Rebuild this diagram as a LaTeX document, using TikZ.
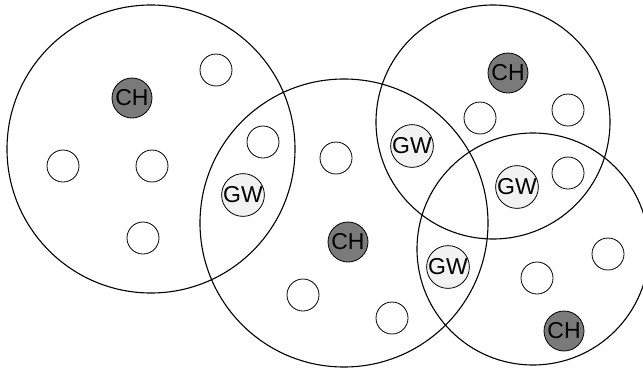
\documentclass[tikz,border=0pt]{standalone}
\usepackage{fontspec}
\setmainfont{Liberation Sans}
\definecolor{chgray}{HTML}{7A7A7A}
\definecolor{gwgray}{HTML}{F2F2F2}
\begin{document}
\begin{tikzpicture}[x=1pt,y=-1pt,
  cluster/.style={draw=black,line width=1.1pt,circle},
  sensor/.style={circle,draw=black,line width=0.8pt,fill=white,minimum size=32pt,inner sep=0pt},
  headnode/.style={circle,draw=black,line width=0.8pt,fill=chgray,minimum size=40pt,inner sep=0pt,font=\fontsize{23}{23}\selectfont},
  gateway/.style={circle,draw=black,line width=0.8pt,fill=gwgray,minimum size=40pt,inner sep=0pt,font=\fontsize{23}{23}\selectfont}]
\useasboundingbox (0,0) rectangle (643,370);
% cluster regions
\draw[cluster] (151,149) circle (144);
\draw[cluster] (344,223) circle (144);
\draw[cluster] (493,122) circle (117);
\draw[cluster] (533,249) circle (116);
% cluster 1
\node[headnode] (ch1) at (132,98) {CH};
\node[sensor] (s1) at (216,70) {};
\node[sensor] (s2) at (263,142) {};
\node[sensor] (s3) at (63,166) {};
\node[sensor] (s4) at (152,166) {};
\node[sensor] (s5) at (143,238) {};
% cluster 2
\node[gateway] (gw1) at (243,195) {GW};
\node[sensor] (s6) at (336,158) {};
\node[headnode] (ch2) at (348,242) {CH};
\node[sensor] (s7) at (303,295) {};
\node[sensor] (s8) at (392,318) {};
\node[gateway] (gw2) at (448,267) {GW};
% cluster 3
\node[headnode] (ch3) at (508,73) {CH};
\node[sensor] (s9) at (480,118) {};
\node[sensor] (s10) at (568,110) {};
\node[gateway] (gw3) at (412,146) {GW};
\node[gateway] (gw4) at (517,187) {GW};
\node[sensor] (s11) at (568,173) {};
% cluster 4
\node[sensor] (s12) at (537,278) {};
\node[sensor] (s13) at (608,254) {};
\node[headnode] (ch4) at (564,331) {CH};
\end{tikzpicture}
\end{document}
